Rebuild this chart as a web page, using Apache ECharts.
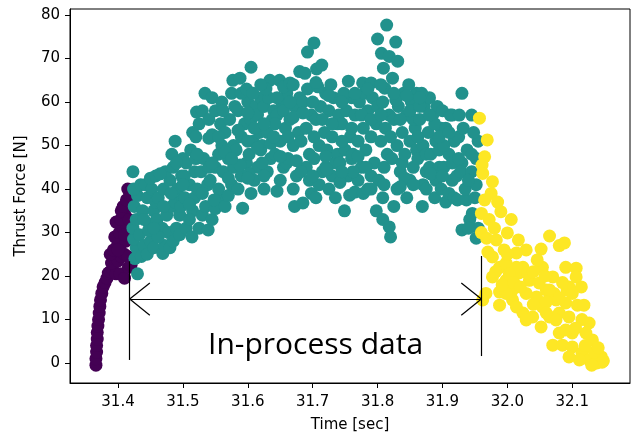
<!DOCTYPE html>
<html>
<head>
<meta charset="utf-8">
<script src="https://cdn.jsdelivr.net/npm/echarts@6/dist/echarts.min.js"></script>
<style>html,body{margin:0;padding:0;background:#fff;}#c{width:633px;height:442px;}</style>
</head>
<body>
<div id="c"></div>
<script>
// ---- data: [time (sec), thrust force (N)] ----
const purpleData = [
[31.366,-0.5],[31.366,1],[31.367,2.5],[31.367,4],[31.368,5.5],[31.368,7],[31.369,8.5],[31.37,10],[31.371,11.5],[31.372,13],[31.373,14.5],[31.375,16],[31.377,17.5],[31.38,18.5],[31.383,19.5],[31.385,20.7],[31.388,21],[31.392,21.5],[31.397,20.5],[31.403,20.5],[31.41,19.5],[31.416,22],[31.39,23],[31.395,24],[31.4,23.5],[31.405,24.5],[31.41,25],[31.388,25],[31.393,26],[31.399,27],[31.405,27.5],[31.412,28],[31.415,24.5],[31.395,29],[31.402,30],[31.408,31],[31.397,32.4],[31.404,33],[31.41,34.5],[31.405,35],[31.408,36],[31.413,37.5],[31.415,40],[31.418,38.5],[31.417,33],[31.418,29.5],[31.42,22.5],[31.4,26],[31.41,29.5]
];
const tealData = [
[31.43,20.5],[31.426,24],[31.428,26.5],[31.424,28.5],[31.423,31],[31.428,33],[31.425,36],[31.43,38.5],[31.424,40],[31.435,41],[31.442,41],[31.423,44],[31.433,29.5],[31.438,35],[31.436,24.5],[31.44,27],
[31.445,25],[31.45,28],[31.448,32],[31.455,35],[31.445,38],[31.452,40],[31.458,37],[31.46,30],[31.45,42.5],[31.458,43],[31.447,30.5],[31.455,26.5],[31.46,33],
[31.469,25.2],[31.472,27],[31.468,31],[31.475,34],[31.462,38],[31.47,40],[31.48,42],[31.478,30],[31.473,44],[31.483,36],[31.465,43.5],[31.483,48],[31.462,29],[31.48,26.5],
[31.485,28],[31.49,31],[31.495,34],[31.488,37],[31.492,40],[31.498,43],[31.485,45],[31.488,51],[31.5,47],[31.495,29.5],[31.5,38],[31.482,39],[31.497,36],
[31.505,31],[31.514,29],[31.515,35],[31.503,38],[31.51,41],[31.518,44],[31.505,46],[31.512,49],[31.52,47],[31.515,53],[31.521,57.7],[31.51,33],[31.518,38],[31.502,43],
[31.525,31],[31.539,30.6],[31.53,34],[31.535,36],[31.522,40],[31.528,44],[31.532,47],[31.54,51.7],[31.525,55],[31.53,58],[31.534,62],[31.54,56],[31.538,41],[31.522,48],
[31.545,33],[31.55,35.5],[31.558,38],[31.542,42],[31.55,45],[31.555,48],[31.545,52.5],[31.558,55],[31.55,58],[31.545,61],[31.56,60],[31.555,40],[31.548,37.5],[31.56,50],
[31.565,36],[31.57,38.5],[31.575,41],[31.562,44],[31.57,47],[31.578,50],[31.565,53],[31.572,56],[31.58,59],[31.575,62],[31.577,65],[31.562,58],[31.578,45],[31.57,42.5],
[31.585,40],[31.592,35.6],[31.59,43],[31.598,46],[31.582,49],[31.59,52],[31.595,55],[31.585,58],[31.6,60],[31.59,62],[31.588,65.5],[31.598,63],[31.605,68],[31.588,45.5],
[31.605,39],[31.61,42],[31.615,45],[31.602,48],[31.608,51],[31.618,53],[31.605,56],[31.612,59],[31.62,61],[31.608,62],[31.615,57],[31.62,49],[31.602,43.5],[31.61,54],
[31.625,40],[31.63,44],[31.635,47],[31.622,50],[31.63,53],[31.638,56],[31.625,59],[31.632,61],[31.634,65],[31.628,63],[31.64,58],[31.622,46],[31.636,50.5],
[31.645,39.5],[31.65,42],[31.655,45],[31.642,48],[31.65,51],[31.658,54],[31.645,57],[31.652,60],[31.66,62],[31.649,65],[31.655,63.5],[31.66,46],[31.642,55],
[31.672,36],[31.67,40],[31.675,43],[31.662,47],[31.67,50],[31.678,53],[31.665,56],[31.672,59],[31.68,61],[31.665,64.4],[31.67,64],[31.68,67],[31.662,52],
[31.685,36.8],[31.69,45],[31.695,48],[31.682,51],[31.69,54],[31.698,57],[31.685,60],[31.692,63],[31.688,66.6],[31.692,71.5],[31.702,73.6],[31.698,39],[31.682,44],[31.695,42],
[31.705,38],[31.71,41],[31.715,44],[31.702,47],[31.71,50],[31.718,53],[31.705,56],[31.712,59],[31.72,62],[31.706,67.6],[31.714,68.5],[31.72,45],[31.702,52],[31.708,63.5],
[31.725,40],[31.73,43],[31.735,46],[31.722,49],[31.73,52],[31.738,55],[31.725,58],[31.732,61],[31.74,57],[31.728,64],[31.738,48],[31.722,44.5],[31.735,38],
[31.749,35],[31.757,38.6],[31.755,43],[31.742,46],[31.75,49],[31.758,52],[31.745,55],[31.752,58],[31.76,61],[31.748,62],[31.755,64.8],[31.742,41.5],[31.76,47],
[31.765,39.3],[31.77,42],[31.775,45],[31.762,48],[31.77,51],[31.778,54],[31.765,57],[31.772,60],[31.78,62],[31.777,64.4],[31.762,44],[31.778,39],
[31.785,40],[31.79,43],[31.795,46],[31.782,49],[31.79,52],[31.798,55],[31.785,58],[31.792,61],[31.8,59],[31.79,64.4],[31.8,74.5],[31.782,45],[31.798,35],
[31.808,33],[31.818,31.3],[31.82,29],[31.808,38],[31.802,42],[31.81,45],[31.815,48],[31.805,51],[31.812,54],[31.818,57],[31.808,60],[31.811,63.2],[31.809,67.8],[31.806,71.2],[31.818,70.5],[31.814,77.7],
[31.828,73.8],[31.831,69.4],[31.823,65.5],[31.83,40],[31.835,44],[31.822,47],[31.83,50],[31.838,53],[31.825,56],[31.832,59],[31.84,62],[31.828,60.5],[31.838,46],[31.825,36],
[31.845,38],[31.85,42],[31.855,45],[31.842,48],[31.85,51],[31.858,54],[31.845,57],[31.852,60],[31.86,62],[31.848,64],[31.855,56],[31.842,42.5],[31.86,49],
[31.869,36],[31.87,41],[31.875,44],[31.862,47],[31.87,50],[31.878,53],[31.865,56],[31.872,59],[31.88,61],[31.868,62],[31.875,48],[31.862,52],[31.88,45],
[31.888,38],[31.89,42],[31.895,45],[31.882,48],[31.89,51],[31.898,54],[31.885,57],[31.892,59],[31.9,58],[31.888,55],[31.895,49],[31.882,43.5],[31.898,40],
[31.905,37],[31.91,39],[31.915,42],[31.902,45],[31.91,48],[31.918,51],[31.905,54],[31.912,57],[31.915,57],[31.915,46],[31.902,50],[31.918,38],
[31.923,37.5],[31.937,37.5],[31.935,40],[31.922,43],[31.93,46],[31.938,49],[31.925,52],[31.932,54],[31.93,62],[31.926,57],[31.928,44],[31.93,30.6],
[31.946,34.4],[31.952,28.7],[31.955,31],[31.942,33],[31.95,38],[31.952,41],[31.945,44],[31.952,47],[31.955,51],[31.948,53],[31.945,57],[31.945,48],[31.94,31],
[31.565,48.5],[31.585,53.5],[31.6,51],[31.615,49.5],[31.625,55],[31.64,52],[31.655,58],[31.67,56.5],[31.685,57.5],[31.7,60],[31.715,56],[31.73,55],[31.745,51],[31.76,54],[31.775,57],[31.79,56],[31.805,57],[31.82,52],[31.835,56],[31.85,58],[31.865,59],[31.88,57],[31.895,52],[31.91,53],[31.6,57.5],[31.62,64],[31.645,61],[31.665,60],[31.705,64.5],[31.725,61.5],[31.745,60],[31.765,62],[31.785,63],[31.805,64],[31.825,62],[31.845,61.5],[31.865,61],[31.54,45],[31.555,52],[31.575,47],[31.6,42.5],[31.625,43],[31.65,47.5],[31.675,46.5],[31.7,43],[31.72,47.5],[31.745,44],[31.77,47.5],[31.79,40],[31.81,41],[31.835,40.5],[31.855,41],[31.875,40],[31.9,43],[31.925,47],[31.94,42],[31.5,41],[31.52,52],[31.49,46],[31.47,36],[31.455,31],[31.44,33],[31.51,36.5],[31.53,39],[31.545,46]
];
const yellowData = [
[31.957,56.3],[31.969,51.3],[31.965,47.4],[31.961,45.5],[31.962,43.6],[31.977,41.7],[31.975,39],[31.965,37.5],[31.985,37],[31.96,34.4],[31.99,34.8],[32.006,33],[31.96,30],[31.968,28.7],[31.983,28.3],[32.0,29.9],[32.017,28.3],[32.029,26],[32.065,29.2],[32.052,26.2],[32.08,27],[32.088,27.6],[31.977,24.4],[31.988,22],[31.998,23],[32.014,25.3],[32.024,22],[31.977,19.8],[31.998,19],[32.018,20.7],[32.034,19],[32.054,22],[32.07,19.8],[32.09,22],[32.106,21.8],[32.114,17.5],[32.092,16.8],[32.072,16],[32.06,16.8],[32.045,15.2],[32.029,16],[32.008,16.8],[31.988,16.3],[31.967,16],[31.962,14.5],[31.988,13.3],[32.008,14.5],[32.024,11.5],[32.039,10.6],[32.054,12.9],[32.065,10.6],[32.08,11.5],[32.09,13.8],[32.108,13.3],[32.118,13.3],[32.08,6.9],[32.07,4.1],[32.085,4.1],[32.1,3.7],[32.115,2.3],[32.126,0.7],[32.138,0],[32.146,0.2],[32.145,1.4],[32.134,2.5],[32.121,6.9],[32.126,9.2],[32.131,5.3],[32.1,6.9],[32.111,0.7],[32.095,1.4],[32.09,7.6],[32.075,9.9],[32.095,10.6],[32.052,8.3],[32.029,9.9],[32.014,12.9],[31.998,16],[32.049,18.4],[32.065,16.8],[32.031,20.7],[32.046,23.7],[32.014,22],[32.095,17.5],[32.106,19.8],[32.1,16],[32.075,14.5],
[31.97,25.5],[31.982,21],[31.992,18],[32.003,20.5],[32.01,18.5],[32.02,17.5],[32.04,13.5],[32.06,14],[32.085,18.5],[32.115,10],[32.14,3.5],[32.12,4],[32.105,8],[31.972,33],[31.98,31],[31.995,26],[32.0,25],[32.04,21],[32.058,20],[32.08,15],[32.06,11.5],[32.148,0.5],[32.13,-0.5]
];
const xTicks = [31.4, 31.5, 31.6, 31.7, 31.8, 31.9, 32.0, 32.1];
const yTicks = [0, 10, 20, 30, 40, 50, 60, 70, 80];
// annotation: span of in-process data (data coordinates)
const spanStart = 31.418, spanEnd = 31.96, arrowLevel = 14.7;
const arrowSegments = [
  [[spanStart, arrowLevel], [spanEnd, arrowLevel]],
  [[spanStart, 0.7], [spanStart, 23.4]],
  [[spanEnd, 1.6], [spanEnd, 24.6]],
  [[spanStart, arrowLevel], [spanStart + 0.031, arrowLevel + 3.7]],
  [[spanStart, arrowLevel], [spanStart + 0.031, arrowLevel - 3.7]],
  [[spanEnd, arrowLevel], [spanEnd - 0.031, arrowLevel + 3.7]],
  [[spanEnd, arrowLevel], [spanEnd - 0.031, arrowLevel - 3.7]]
];
const annotationText = 'In-process data';

const chart = echarts.init(document.getElementById('c'), null, {renderer: 'canvas'});
const axisFont = {fontFamily: 'DejaVu Sans', fontSize: 15, color: '#000'};
const dot = (color, data) => ({
  type: 'scatter', data: data, symbolSize: 13, itemStyle: {color: color, opacity: 1}, silent: true
});
chart.setOption({
  animation: false,
  backgroundColor: '#fff',
  grid: {left: 70, right: 3, top: 9, bottom: 59, show: true, borderColor: '#000', borderWidth: 1, backgroundColor: 'transparent'},
  xAxis: {
    type: 'value', min: 31.326, max: 32.189,
    name: 'Time [sec]', nameLocation: 'middle', nameGap: 35,
    nameTextStyle: axisFont,
    axisLine: {show: true, onZero: false, lineStyle: {color: '#000', width: 1}},
    axisTick: {show: true, inside: false, length: 5, lineStyle: {color: '#000'}, customValues: xTicks},
    axisLabel: Object.assign({margin: 12, customValues: xTicks, formatter: v => v.toFixed(1)}, axisFont),
    splitLine: {show: false}
  },
  yAxis: {
    type: 'value', min: -4.6, max: 81.4,
    name: 'Thrust Force [N]', nameLocation: 'middle', nameGap: 41, nameRotate: 90,
    nameTextStyle: axisFont,
    axisLine: {show: true, onZero: false, lineStyle: {color: '#000', width: 1}},
    axisTick: {show: true, inside: false, length: 5, lineStyle: {color: '#000'}, customValues: yTicks},
    axisLabel: Object.assign({margin: 10, customValues: yTicks, formatter: v => String(v)}, axisFont),
    splitLine: {show: false}
  },
  series: [
    dot('#440154', purpleData),
    dot('#21918c', tealData),
    dot('#fde725', yellowData),
    {
      type: 'line', data: [], z: 10, silent: true,
      markLine: {
        silent: true, symbol: ['none', 'none'], animation: false,
        label: {show: false},
        lineStyle: {color: '#000', width: 1.2, type: 'solid'},
        emphasis: {disabled: true},
        data: arrowSegments.map(s => [{coord: s[0]}, {coord: s[1]}])
      }
    }
  ],
  graphic: [{
    type: 'text', left: 208, top: 330, z: 20,
    style: {text: annotationText, fontFamily: 'Open Sans', fontSize: 30, fill: '#000'}
  }]
});
</script>
</body>
</html>
